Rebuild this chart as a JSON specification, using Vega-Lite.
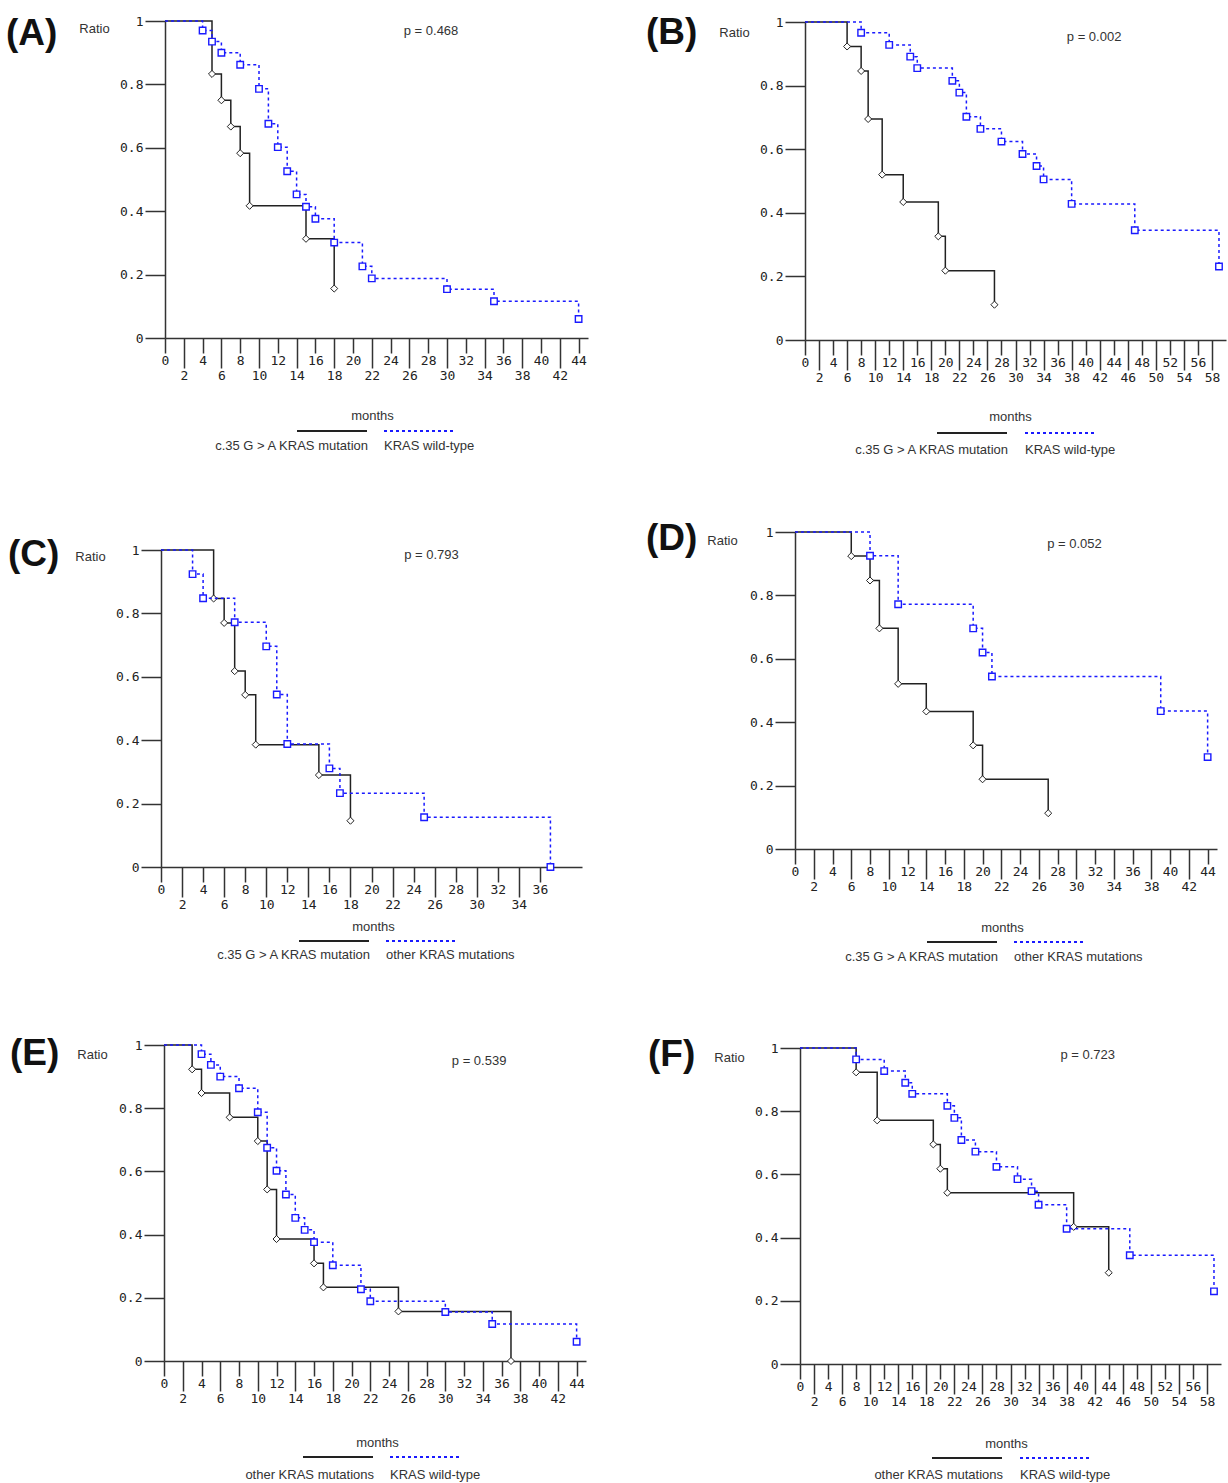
{
  "$schema": "https://vega.github.io/schema/vega-lite/v6.json",
  "background": "white",
  "padding": {"left": 6, "top": 14, "right": 0, "bottom": 0},
  "datasets": {
    "A1": [{"series":"c.35 G > A KRAS mutation","month":0,"ratio":1},{"series":"c.35 G > A KRAS mutation","month":5,"ratio":0.833},{"series":"c.35 G > A KRAS mutation","month":6,"ratio":0.75},{"series":"c.35 G > A KRAS mutation","month":7,"ratio":0.667},{"series":"c.35 G > A KRAS mutation","month":8,"ratio":0.583},{"series":"c.35 G > A KRAS mutation","month":9,"ratio":0.417},{"series":"c.35 G > A KRAS mutation","month":15,"ratio":0.313},{"series":"c.35 G > A KRAS mutation","month":18,"ratio":0.156}],
    "A2": [{"series":"KRAS wild-type","month":0,"ratio":1},{"series":"KRAS wild-type","month":4,"ratio":0.97},{"series":"KRAS wild-type","month":5,"ratio":0.935},{"series":"KRAS wild-type","month":6,"ratio":0.9},{"series":"KRAS wild-type","month":8,"ratio":0.862},{"series":"KRAS wild-type","month":10,"ratio":0.786},{"series":"KRAS wild-type","month":11,"ratio":0.676},{"series":"KRAS wild-type","month":12,"ratio":0.602},{"series":"KRAS wild-type","month":13,"ratio":0.526},{"series":"KRAS wild-type","month":14,"ratio":0.453},{"series":"KRAS wild-type","month":15,"ratio":0.414},{"series":"KRAS wild-type","month":16,"ratio":0.376},{"series":"KRAS wild-type","month":18,"ratio":0.301},{"series":"KRAS wild-type","month":21,"ratio":0.226},{"series":"KRAS wild-type","month":22,"ratio":0.188},{"series":"KRAS wild-type","month":30,"ratio":0.154},{"series":"KRAS wild-type","month":35,"ratio":0.116},{"series":"KRAS wild-type","month":44,"ratio":0.06}],
    "B1": [{"series":"c.35 G > A KRAS mutation","month":0,"ratio":1},{"series":"c.35 G > A KRAS mutation","month":6,"ratio":0.923},{"series":"c.35 G > A KRAS mutation","month":8,"ratio":0.846},{"series":"c.35 G > A KRAS mutation","month":9,"ratio":0.695},{"series":"c.35 G > A KRAS mutation","month":11,"ratio":0.52},{"series":"c.35 G > A KRAS mutation","month":14,"ratio":0.434},{"series":"c.35 G > A KRAS mutation","month":19,"ratio":0.326},{"series":"c.35 G > A KRAS mutation","month":20,"ratio":0.218},{"series":"c.35 G > A KRAS mutation","month":27,"ratio":0.111}],
    "B2": [{"series":"KRAS wild-type","month":0,"ratio":1},{"series":"KRAS wild-type","month":8,"ratio":0.966},{"series":"KRAS wild-type","month":12,"ratio":0.928},{"series":"KRAS wild-type","month":15,"ratio":0.891},{"series":"KRAS wild-type","month":16,"ratio":0.855},{"series":"KRAS wild-type","month":21,"ratio":0.815},{"series":"KRAS wild-type","month":22,"ratio":0.778},{"series":"KRAS wild-type","month":23,"ratio":0.702},{"series":"KRAS wild-type","month":25,"ratio":0.664},{"series":"KRAS wild-type","month":28,"ratio":0.624},{"series":"KRAS wild-type","month":31,"ratio":0.585},{"series":"KRAS wild-type","month":33,"ratio":0.547},{"series":"KRAS wild-type","month":34,"ratio":0.505},{"series":"KRAS wild-type","month":38,"ratio":0.428},{"series":"KRAS wild-type","month":47,"ratio":0.345},{"series":"KRAS wild-type","month":59,"ratio":0.231}],
    "C1": [{"series":"c.35 G > A KRAS mutation","month":0,"ratio":1},{"series":"c.35 G > A KRAS mutation","month":5,"ratio":0.847},{"series":"c.35 G > A KRAS mutation","month":6,"ratio":0.77},{"series":"c.35 G > A KRAS mutation","month":7,"ratio":0.618},{"series":"c.35 G > A KRAS mutation","month":8,"ratio":0.543},{"series":"c.35 G > A KRAS mutation","month":9,"ratio":0.386},{"series":"c.35 G > A KRAS mutation","month":15,"ratio":0.29},{"series":"c.35 G > A KRAS mutation","month":18,"ratio":0.146}],
    "C2": [{"series":"other KRAS mutations","month":0,"ratio":1},{"series":"other KRAS mutations","month":3,"ratio":0.924},{"series":"other KRAS mutations","month":4,"ratio":0.848},{"series":"other KRAS mutations","month":7,"ratio":0.772},{"series":"other KRAS mutations","month":10,"ratio":0.696},{"series":"other KRAS mutations","month":11,"ratio":0.544},{"series":"other KRAS mutations","month":12,"ratio":0.388},{"series":"other KRAS mutations","month":16,"ratio":0.311},{"series":"other KRAS mutations","month":17,"ratio":0.233},{"series":"other KRAS mutations","month":25,"ratio":0.157},{"series":"other KRAS mutations","month":37,"ratio":0}],
    "D1": [{"series":"c.35 G > A KRAS mutation","month":0,"ratio":1},{"series":"c.35 G > A KRAS mutation","month":6,"ratio":0.924},{"series":"c.35 G > A KRAS mutation","month":8,"ratio":0.847},{"series":"c.35 G > A KRAS mutation","month":9,"ratio":0.696},{"series":"c.35 G > A KRAS mutation","month":11,"ratio":0.521},{"series":"c.35 G > A KRAS mutation","month":14,"ratio":0.434},{"series":"c.35 G > A KRAS mutation","month":19,"ratio":0.327},{"series":"c.35 G > A KRAS mutation","month":20,"ratio":0.22},{"series":"c.35 G > A KRAS mutation","month":27,"ratio":0.113}],
    "D2": [{"series":"other KRAS mutations","month":0,"ratio":1},{"series":"other KRAS mutations","month":8,"ratio":0.925},{"series":"other KRAS mutations","month":11,"ratio":0.772},{"series":"other KRAS mutations","month":19,"ratio":0.696},{"series":"other KRAS mutations","month":20,"ratio":0.62},{"series":"other KRAS mutations","month":21,"ratio":0.544},{"series":"other KRAS mutations","month":39,"ratio":0.435},{"series":"other KRAS mutations","month":44,"ratio":0.29}],
    "E1": [{"series":"other KRAS mutations","month":0,"ratio":1},{"series":"other KRAS mutations","month":3,"ratio":0.923},{"series":"other KRAS mutations","month":4,"ratio":0.848},{"series":"other KRAS mutations","month":7,"ratio":0.771},{"series":"other KRAS mutations","month":10,"ratio":0.696},{"series":"other KRAS mutations","month":11,"ratio":0.543},{"series":"other KRAS mutations","month":12,"ratio":0.386},{"series":"other KRAS mutations","month":16,"ratio":0.309},{"series":"other KRAS mutations","month":17,"ratio":0.233},{"series":"other KRAS mutations","month":25,"ratio":0.157},{"series":"other KRAS mutations","month":37,"ratio":0}],
    "E2": [{"series":"KRAS wild-type","month":0,"ratio":1},{"series":"KRAS wild-type","month":4,"ratio":0.971},{"series":"KRAS wild-type","month":5,"ratio":0.937},{"series":"KRAS wild-type","month":6,"ratio":0.9},{"series":"KRAS wild-type","month":8,"ratio":0.863},{"series":"KRAS wild-type","month":10,"ratio":0.787},{"series":"KRAS wild-type","month":11,"ratio":0.675},{"series":"KRAS wild-type","month":12,"ratio":0.602},{"series":"KRAS wild-type","month":13,"ratio":0.527},{"series":"KRAS wild-type","month":14,"ratio":0.453},{"series":"KRAS wild-type","month":15,"ratio":0.415},{"series":"KRAS wild-type","month":16,"ratio":0.376},{"series":"KRAS wild-type","month":18,"ratio":0.303},{"series":"KRAS wild-type","month":21,"ratio":0.227},{"series":"KRAS wild-type","month":22,"ratio":0.189},{"series":"KRAS wild-type","month":30,"ratio":0.155},{"series":"KRAS wild-type","month":35,"ratio":0.117},{"series":"KRAS wild-type","month":44,"ratio":0.061}],
    "F1": [{"series":"other KRAS mutations","month":0,"ratio":1},{"series":"other KRAS mutations","month":8,"ratio":0.923},{"series":"other KRAS mutations","month":11,"ratio":0.771},{"series":"other KRAS mutations","month":19,"ratio":0.695},{"series":"other KRAS mutations","month":20,"ratio":0.618},{"series":"other KRAS mutations","month":21,"ratio":0.542},{"series":"other KRAS mutations","month":39,"ratio":0.434},{"series":"other KRAS mutations","month":44,"ratio":0.289}],
    "F2": [{"series":"KRAS wild-type","month":0,"ratio":1},{"series":"KRAS wild-type","month":8,"ratio":0.964},{"series":"KRAS wild-type","month":12,"ratio":0.927},{"series":"KRAS wild-type","month":15,"ratio":0.89},{"series":"KRAS wild-type","month":16,"ratio":0.855},{"series":"KRAS wild-type","month":21,"ratio":0.817},{"series":"KRAS wild-type","month":22,"ratio":0.779},{"series":"KRAS wild-type","month":23,"ratio":0.709},{"series":"KRAS wild-type","month":25,"ratio":0.672},{"series":"KRAS wild-type","month":28,"ratio":0.624},{"series":"KRAS wild-type","month":31,"ratio":0.585},{"series":"KRAS wild-type","month":33,"ratio":0.547},{"series":"KRAS wild-type","month":34,"ratio":0.504},{"series":"KRAS wild-type","month":38,"ratio":0.428},{"series":"KRAS wild-type","month":47,"ratio":0.344},{"series":"KRAS wild-type","month":59,"ratio":0.23}]
  },
  "bounds": "flush",
  "spacing": 634,
  "hconcat": [
    {
      "bounds": "flush",
      "spacing": 178,
      "vconcat": [
        {
          "width": 427, "height": 317,
          "title": {"text": "(A)", "dx": -155, "dy": 42},
          "layer": [
            {"data": {"name": "A1"}, "mark": {"type": "line", "interpolate": "step-after", "strokeWidth": 1.5},
             "encoding": {
               "x": {"field": "month", "type": "quantitative", "scale": {"domain": [0, 44], "range": [4, 427]},
                     "axis": {"values": [0,2,4,6,8,10,12,14,16,18,20,22,24,26,28,30,32,34,36,38,40,42,44], "format": "d", "tickCount": 100, "tickSize": {"condition": {"test": "datum.value % 4 == 0", "value": 15}, "value": 30}, "labelPadding": 1, "title": "months", "titleX": 211, "titleY": 77}},
               "y": {"field": "ratio", "type": "quantitative", "scale": {"domain": [0, 1], "range": [317, 0]},
                     "axis": {"values": [0,0.2,0.4,0.6,0.8,1], "tickCount": 100, "format": "~g", "offset": -4, "title": "Ratio", "titleX": -71, "titleY": 7}},
               "color": {"field": "series", "type": "nominal", "scale": {"range": ["#222222"]},
                         "legend": {"title": null, "orient": "none", "legendX": 135, "legendY": 374, "labelAlign": "right", "labelOffset": 0, "encode": {"labels": {"update": {"dy": {"value": 15}}}}}}
             }},
            {"data": {"name": "A1"}, "transform": [{"filter": "datum.month > 0"}],
             "mark": {"type": "point", "shape": "diamond", "filled": true, "fill": "white", "stroke": "#222222", "strokeWidth": 1, "size": 50, "opacity": 1},
             "encoding": {"x": {"field": "month", "type": "quantitative"}, "y": {"field": "ratio", "type": "quantitative"}}},
            {"data": {"name": "A2"}, "mark": {"type": "line", "interpolate": "step-after", "strokeWidth": 1.5, "strokeDash": [3, 3]},
             "encoding": {
               "x": {"field": "month", "type": "quantitative"},
               "y": {"field": "ratio", "type": "quantitative"},
               "color": {"field": "series", "type": "nominal", "scale": {"range": ["#1a1aff"]},
                         "legend": {"title": null, "orient": "none", "legendX": 222, "legendY": 374, "labelAlign": "left", "labelOffset": -71, "symbolDash": [3, 3], "encode": {"labels": {"update": {"dy": {"value": 15}}}}}}
             }},
            {"data": {"name": "A2"}, "transform": [{"filter": "datum.month > 0"}],
             "mark": {"type": "point", "shape": "square", "filled": true, "fill": "white", "stroke": "#1a1aff", "strokeWidth": 1.4, "size": 42, "opacity": 1},
             "encoding": {"x": {"field": "month", "type": "quantitative"}, "y": {"field": "ratio", "type": "quantitative"}}},
            {"data": {"values": [{"p": "p = 0.468"}]}, "mark": {"type": "text"},
             "encoding": {"x": {"datum": 28.3, "type": "quantitative"}, "y": {"datum": 0.969, "type": "quantitative"}, "text": {"field": "p"}}}
          ],
          "resolve": {"scale": {"color": "independent"}}
        },
        {
          "width": 421, "height": 351,
          "title": {"text": "(C)", "dx": -153, "dy": 62},
          "layer": [
            {"data": {"name": "C1"}, "mark": {"type": "line", "interpolate": "step-after", "strokeWidth": 1.5},
             "encoding": {
               "x": {"field": "month", "type": "quantitative", "scale": {"domain": [0, 37], "range": [0, 421]},
                     "axis": {"values": [0,2,4,6,8,10,12,14,16,18,20,22,24,26,28,30,32,34,36], "format": "d", "tickCount": 100, "tickSize": {"condition": {"test": "datum.value % 4 == 0", "value": 15}, "value": 30}, "labelPadding": 1, "title": "months", "titleX": 212, "titleY": 59}},
               "y": {"field": "ratio", "type": "quantitative", "scale": {"domain": [0, 1], "range": [351, 34]},
                     "axis": {"values": [0,0.2,0.4,0.6,0.8,1], "tickCount": 100, "format": "~g", "offset": 0, "title": "Ratio", "titleX": -71, "titleY": 40}},
               "color": {"field": "series", "type": "nominal", "scale": {"range": ["#222222"]},
                         "legend": {"title": null, "orient": "none", "legendX": 137, "legendY": 389, "labelAlign": "right", "labelOffset": 0, "encode": {"labels": {"update": {"dy": {"value": 14}}}}}}
             }},
            {"data": {"name": "C1"}, "transform": [{"filter": "datum.month > 0"}],
             "mark": {"type": "point", "shape": "diamond", "filled": true, "fill": "white", "stroke": "#222222", "strokeWidth": 1, "size": 50, "opacity": 1},
             "encoding": {"x": {"field": "month", "type": "quantitative"}, "y": {"field": "ratio", "type": "quantitative"}}},
            {"data": {"name": "C2"}, "mark": {"type": "line", "interpolate": "step-after", "strokeWidth": 1.5, "strokeDash": [3, 3]},
             "encoding": {
               "x": {"field": "month", "type": "quantitative"},
               "y": {"field": "ratio", "type": "quantitative"},
               "color": {"field": "series", "type": "nominal", "scale": {"range": ["#1a1aff"]},
                         "legend": {"title": null, "orient": "none", "legendX": 224, "legendY": 389, "labelAlign": "left", "labelOffset": -71, "symbolDash": [3, 3], "encode": {"labels": {"update": {"dy": {"value": 14}}}}}}
             }},
            {"data": {"name": "C2"}, "transform": [{"filter": "datum.month > 0"}],
             "mark": {"type": "point", "shape": "square", "filled": true, "fill": "white", "stroke": "#1a1aff", "strokeWidth": 1.4, "size": 42, "opacity": 1},
             "encoding": {"x": {"field": "month", "type": "quantitative"}, "y": {"field": "ratio", "type": "quantitative"}}},
            {"data": {"values": [{"p": "p = 0.793"}]}, "mark": {"type": "text"},
             "encoding": {"x": {"datum": 25.7, "type": "quantitative"}, "y": {"datum": 0.984, "type": "quantitative"}, "text": {"field": "p"}}}
          ],
          "resolve": {"scale": {"color": "independent"}}
        },
        {
          "width": 425, "height": 316,
          "title": {"text": "(E)", "dx": -151, "dy": 38},
          "layer": [
            {"data": {"name": "E1"}, "mark": {"type": "line", "interpolate": "step-after", "strokeWidth": 1.5},
             "encoding": {
               "x": {"field": "month", "type": "quantitative", "scale": {"domain": [0, 44], "range": [3, 425]},
                     "axis": {"values": [0,2,4,6,8,10,12,14,16,18,20,22,24,26,28,30,32,34,36,38,40,42,44], "format": "d", "tickCount": 100, "tickSize": {"condition": {"test": "datum.value % 4 == 0", "value": 15}, "value": 30}, "labelPadding": 1, "title": "months", "titleX": 216, "titleY": 81}},
               "y": {"field": "ratio", "type": "quantitative", "scale": {"domain": [0, 1], "range": [316, 0]},
                     "axis": {"values": [0,0.2,0.4,0.6,0.8,1], "tickCount": 100, "format": "~g", "offset": -3, "title": "Ratio", "titleX": -72, "titleY": 9}},
               "color": {"field": "series", "type": "nominal", "scale": {"range": ["#222222"]},
                         "legend": {"title": null, "orient": "none", "legendX": 141, "legendY": 376, "labelAlign": "right", "labelOffset": 0, "encode": {"labels": {"update": {"dy": {"value": 18}}}}}}
             }},
            {"data": {"name": "E1"}, "transform": [{"filter": "datum.month > 0"}],
             "mark": {"type": "point", "shape": "diamond", "filled": true, "fill": "white", "stroke": "#222222", "strokeWidth": 1, "size": 50, "opacity": 1},
             "encoding": {"x": {"field": "month", "type": "quantitative"}, "y": {"field": "ratio", "type": "quantitative"}}},
            {"data": {"name": "E2"}, "mark": {"type": "line", "interpolate": "step-after", "strokeWidth": 1.5, "strokeDash": [3, 3]},
             "encoding": {
               "x": {"field": "month", "type": "quantitative"},
               "y": {"field": "ratio", "type": "quantitative"},
               "color": {"field": "series", "type": "nominal", "scale": {"range": ["#1a1aff"]},
                         "legend": {"title": null, "orient": "none", "legendX": 228, "legendY": 376, "labelAlign": "left", "labelOffset": -71, "symbolDash": [3, 3], "encode": {"labels": {"update": {"dy": {"value": 18}}}}}}
             }},
            {"data": {"name": "E2"}, "transform": [{"filter": "datum.month > 0"}],
             "mark": {"type": "point", "shape": "square", "filled": true, "fill": "white", "stroke": "#1a1aff", "strokeWidth": 1.4, "size": 42, "opacity": 1},
             "encoding": {"x": {"field": "month", "type": "quantitative"}, "y": {"field": "ratio", "type": "quantitative"}}},
            {"data": {"values": [{"p": "p = 0.539"}]}, "mark": {"type": "text"},
             "encoding": {"x": {"datum": 33.6, "type": "quantitative"}, "y": {"datum": 0.95, "type": "quantitative"}, "text": {"field": "p"}}}
          ],
          "resolve": {"scale": {"color": "independent"}}
        }
      ]
    },
    {
      "bounds": "flush",
      "spacing": 192,
      "vconcat": [
        {
          "width": 433, "height": 319,
          "title": {"text": "(B)", "dx": -149, "dy": 40},
          "layer": [
            {"data": {"name": "B1"}, "mark": {"type": "line", "interpolate": "step-after", "strokeWidth": 1.5},
             "encoding": {
               "x": {"field": "month", "type": "quantitative", "scale": {"domain": [0, 59], "range": [10, 431]},
                     "axis": {"values": [0,2,4,6,8,10,12,14,16,18,20,22,24,26,28,30,32,34,36,38,40,42,44,46,48,50,52,54,56,58], "format": "d", "tickCount": 100, "tickSize": {"condition": {"test": "datum.value % 4 == 0", "value": 15}, "value": 30}, "labelPadding": 1, "title": "months", "titleX": 215, "titleY": 76}},
               "y": {"field": "ratio", "type": "quantitative", "scale": {"domain": [0, 1], "range": [319, 1]},
                     "axis": {"values": [0,0.2,0.4,0.6,0.8,1], "tickCount": 100, "format": "~g", "offset": -10, "title": "Ratio", "titleX": -71, "titleY": 11}},
               "color": {"field": "series", "type": "nominal", "scale": {"range": ["#222222"]},
                         "legend": {"title": null, "orient": "none", "legendX": 141, "legendY": 376, "labelAlign": "right", "labelOffset": 0, "encode": {"labels": {"update": {"dy": {"value": 17}}}}}}
             }},
            {"data": {"name": "B1"}, "transform": [{"filter": "datum.month > 0"}],
             "mark": {"type": "point", "shape": "diamond", "filled": true, "fill": "white", "stroke": "#222222", "strokeWidth": 1, "size": 50, "opacity": 1},
             "encoding": {"x": {"field": "month", "type": "quantitative"}, "y": {"field": "ratio", "type": "quantitative"}}},
            {"data": {"name": "B2"}, "mark": {"type": "line", "interpolate": "step-after", "strokeWidth": 1.5, "strokeDash": [3, 3]},
             "encoding": {
               "x": {"field": "month", "type": "quantitative"},
               "y": {"field": "ratio", "type": "quantitative"},
               "color": {"field": "series", "type": "nominal", "scale": {"range": ["#1a1aff"]},
                         "legend": {"title": null, "orient": "none", "legendX": 229, "legendY": 376, "labelAlign": "left", "labelOffset": -71, "symbolDash": [3, 3], "encode": {"labels": {"update": {"dy": {"value": 17}}}}}}
             }},
            {"data": {"name": "B2"}, "transform": [{"filter": "datum.month > 0"}],
             "mark": {"type": "point", "shape": "square", "filled": true, "fill": "white", "stroke": "#1a1aff", "strokeWidth": 1.4, "size": 42, "opacity": 1},
             "encoding": {"x": {"field": "month", "type": "quantitative"}, "y": {"field": "ratio", "type": "quantitative"}}},
            {"data": {"values": [{"p": "p = 0.002"}]}, "mark": {"type": "text"},
             "encoding": {"x": {"datum": 41.2, "type": "quantitative"}, "y": {"datum": 0.953, "type": "quantitative"}, "text": {"field": "p"}}}
          ],
          "resolve": {"scale": {"color": "independent"}}
        },
        {
          "width": 422, "height": 317,
          "title": {"text": "(D)", "dx": -149, "dy": 36},
          "layer": [
            {"data": {"name": "D1"}, "mark": {"type": "line", "interpolate": "step-after", "strokeWidth": 1.5},
             "encoding": {
               "x": {"field": "month", "type": "quantitative", "scale": {"domain": [0, 44], "range": [0, 422]},
                     "axis": {"values": [0,2,4,6,8,10,12,14,16,18,20,22,24,26,28,30,32,34,36,38,40,42,44], "format": "d", "tickCount": 100, "tickSize": {"condition": {"test": "datum.value % 4 == 0", "value": 15}, "value": 30}, "labelPadding": 1, "title": "months", "titleX": 207, "titleY": 78}},
               "y": {"field": "ratio", "type": "quantitative", "scale": {"domain": [0, 1], "range": [317, 0]},
                     "axis": {"values": [0,0.2,0.4,0.6,0.8,1], "tickCount": 100, "format": "~g", "offset": 0, "title": "Ratio", "titleX": -73, "titleY": 8}},
               "color": {"field": "series", "type": "nominal", "scale": {"range": ["#222222"]},
                         "legend": {"title": null, "orient": "none", "legendX": 131, "legendY": 374, "labelAlign": "right", "labelOffset": 0, "encode": {"labels": {"update": {"dy": {"value": 15}}}}}}
             }},
            {"data": {"name": "D1"}, "transform": [{"filter": "datum.month > 0"}],
             "mark": {"type": "point", "shape": "diamond", "filled": true, "fill": "white", "stroke": "#222222", "strokeWidth": 1, "size": 50, "opacity": 1},
             "encoding": {"x": {"field": "month", "type": "quantitative"}, "y": {"field": "ratio", "type": "quantitative"}}},
            {"data": {"name": "D2"}, "mark": {"type": "line", "interpolate": "step-after", "strokeWidth": 1.5, "strokeDash": [3, 3]},
             "encoding": {
               "x": {"field": "month", "type": "quantitative"},
               "y": {"field": "ratio", "type": "quantitative"},
               "color": {"field": "series", "type": "nominal", "scale": {"range": ["#1a1aff"]},
                         "legend": {"title": null, "orient": "none", "legendX": 218, "legendY": 374, "labelAlign": "left", "labelOffset": -71, "symbolDash": [3, 3], "encode": {"labels": {"update": {"dy": {"value": 15}}}}}}
             }},
            {"data": {"name": "D2"}, "transform": [{"filter": "datum.month > 0"}],
             "mark": {"type": "point", "shape": "square", "filled": true, "fill": "white", "stroke": "#1a1aff", "strokeWidth": 1.4, "size": 42, "opacity": 1},
             "encoding": {"x": {"field": "month", "type": "quantitative"}, "y": {"field": "ratio", "type": "quantitative"}}},
            {"data": {"values": [{"p": "p = 0.052"}]}, "mark": {"type": "text"},
             "encoding": {"x": {"datum": 29.8, "type": "quantitative"}, "y": {"datum": 0.962, "type": "quantitative"}, "text": {"field": "p"}}}
          ],
          "resolve": {"scale": {"color": "independent"}}
        },
        {
          "width": 426, "height": 323,
          "title": {"text": "(F)", "dx": -147, "dy": 37},
          "layer": [
            {"data": {"name": "F1"}, "mark": {"type": "line", "interpolate": "step-after", "strokeWidth": 1.5},
             "encoding": {
               "x": {"field": "month", "type": "quantitative", "scale": {"domain": [0, 59], "range": [5, 426]},
                     "axis": {"values": [0,2,4,6,8,10,12,14,16,18,20,22,24,26,28,30,32,34,36,38,40,42,44,46,48,50,52,54,56,58], "format": "d", "tickCount": 100, "tickSize": {"condition": {"test": "datum.value % 4 == 0", "value": 15}, "value": 30}, "labelPadding": 1, "title": "months", "titleX": 211, "titleY": 79}},
               "y": {"field": "ratio", "type": "quantitative", "scale": {"domain": [0, 1], "range": [323, 7]},
                     "axis": {"values": [0,0.2,0.4,0.6,0.8,1], "tickCount": 100, "format": "~g", "offset": -5, "title": "Ratio", "titleX": -71, "titleY": 16}},
               "color": {"field": "series", "type": "nominal", "scale": {"range": ["#222222"]},
                         "legend": {"title": null, "orient": "none", "legendX": 136, "legendY": 381, "labelAlign": "right", "labelOffset": 0, "encode": {"labels": {"update": {"dy": {"value": 17}}}}}}
             }},
            {"data": {"name": "F1"}, "transform": [{"filter": "datum.month > 0"}],
             "mark": {"type": "point", "shape": "diamond", "filled": true, "fill": "white", "stroke": "#222222", "strokeWidth": 1, "size": 50, "opacity": 1},
             "encoding": {"x": {"field": "month", "type": "quantitative"}, "y": {"field": "ratio", "type": "quantitative"}}},
            {"data": {"name": "F2"}, "mark": {"type": "line", "interpolate": "step-after", "strokeWidth": 1.5, "strokeDash": [3, 3]},
             "encoding": {
               "x": {"field": "month", "type": "quantitative"},
               "y": {"field": "ratio", "type": "quantitative"},
               "color": {"field": "series", "type": "nominal", "scale": {"range": ["#1a1aff"]},
                         "legend": {"title": null, "orient": "none", "legendX": 224, "legendY": 381, "labelAlign": "left", "labelOffset": -71, "symbolDash": [3, 3], "encode": {"labels": {"update": {"dy": {"value": 17}}}}}}
             }},
            {"data": {"name": "F2"}, "transform": [{"filter": "datum.month > 0"}],
             "mark": {"type": "point", "shape": "square", "filled": true, "fill": "white", "stroke": "#1a1aff", "strokeWidth": 1.4, "size": 42, "opacity": 1},
             "encoding": {"x": {"field": "month", "type": "quantitative"}, "y": {"field": "ratio", "type": "quantitative"}}},
            {"data": {"values": [{"p": "p = 0.723"}]}, "mark": {"type": "text"},
             "encoding": {"x": {"datum": 41.0, "type": "quantitative"}, "y": {"datum": 0.978, "type": "quantitative"}, "text": {"field": "p"}}}
          ],
          "resolve": {"scale": {"color": "independent"}}
        }
      ]
    }
  ],
  "config": {
    "view": {"stroke": null},
    "axis": {
      "grid": false, "domainColor": "#333333", "domainWidth": 1.5, "tickColor": "#333333", "tickWidth": 1.5,
      "labelColor": "#222222", "labelFont": "DejaVu Sans Mono", "labelFontSize": 13,
      "labelFlush": false, "labelOverlap": false, "labelBound": false,
      "titleFont": "Liberation Sans", "titleFontSize": 13, "titleFontWeight": "normal", "titleColor": "#333333",
      "titleAngle": 0, "titleAlign": "center", "titleBaseline": "middle"
    },
    "axisY": {"tickSize": 20, "labelPadding": 2},
    "legend": {
      "padding": 0, "symbolType": "stroke", "symbolSize": 4900, "symbolStrokeWidth": 2,
      "labelFont": "Liberation Sans", "labelFontSize": 13, "labelColor": "#333333", "labelLimit": 400, "direction": "vertical"
    },
    "title": {
      "anchor": "start", "frame": "group", "orient": "top", "offset": 0, "baseline": "middle",
      "font": "Liberation Sans", "fontSize": 37, "fontWeight": "bold", "color": "#111111"
    },
    "text": {"font": "Liberation Sans", "fontSize": 13, "color": "#333333"}
  }
}
